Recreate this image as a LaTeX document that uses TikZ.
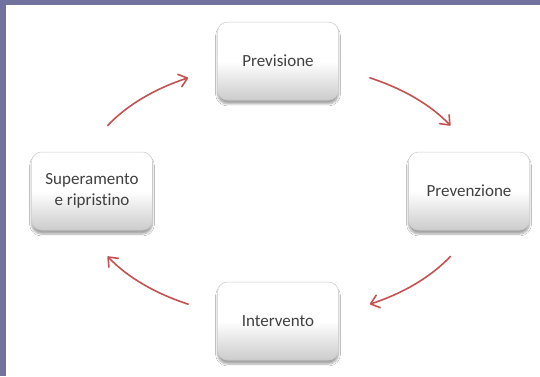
\documentclass[tikz,border=0pt]{standalone}
\usepackage{fontspec}
\setmainfont{Carlito}[Ligatures=NoCommon]
\usetikzlibrary{arrows.meta,shadows.blur}
\definecolor{bandcol}{RGB}{113,114,158}
\definecolor{arrowcol}{RGB}{196,82,80}
\definecolor{txtcol}{RGB}{64,64,64}
\tikzset{
  phasebox/.style={draw=black!20, line width=0.5pt, rounded corners=10pt,
    minimum width=121pt, minimum height=78pt, align=center,
    top color=white, bottom color=black!20, middle color=white,
    blur shadow={shadow xshift=0pt, shadow yshift=-4pt, shadow blur steps=6, shadow opacity=35},
    font=\fontsize{17}{20.5}\selectfont, text=txtcol},
  cyclearrow/.style={draw=arrowcol, line width=1.6pt, line cap=round,
    -{Straight Barb[length=8pt,width=13pt,line cap=round,line join=round]}}
}
\begin{document}
\begin{tikzpicture}[x=1pt,y=1pt]
  \path[fill=white] (0,0) rectangle (540,376);
  \useasboundingbox (0,0) rectangle (540,376);
  \fill[bandcol] (0,371) rectangle (540,376);
  \fill[bandcol] (0,0) rectangle (6,376);

  \node[phasebox] (prev) at (278,315) {Previsione};
  \node[phasebox] (prevz) at (469,185) {Prevenzione};
  \node[phasebox] (interv) at (278,55) {Intervento};
  \node[phasebox] (super) at (92,185) {Superamento\\e ripristino};

  \coordinate (c) at (279,185);
  \path (c) ++(63:200 and 127) coordinate (a1s);
  \path (c) ++(-31:200 and 127) coordinate (a2s);
  \path (c) ++(-117:200 and 127) coordinate (a3s);
  \path (c) ++(149:200 and 127) coordinate (a4s);

  \draw[cyclearrow] (a1s) arc[start angle=63, end angle=31, x radius=200, y radius=127];
  \draw[cyclearrow] (a2s) arc[start angle=-31, end angle=-63, x radius=200, y radius=127];
  \draw[cyclearrow] (a3s) arc[start angle=-117, end angle=-149, x radius=200, y radius=127];
  \draw[cyclearrow] (a4s) arc[start angle=149, end angle=117, x radius=200, y radius=127];
\end{tikzpicture}
\end{document}
